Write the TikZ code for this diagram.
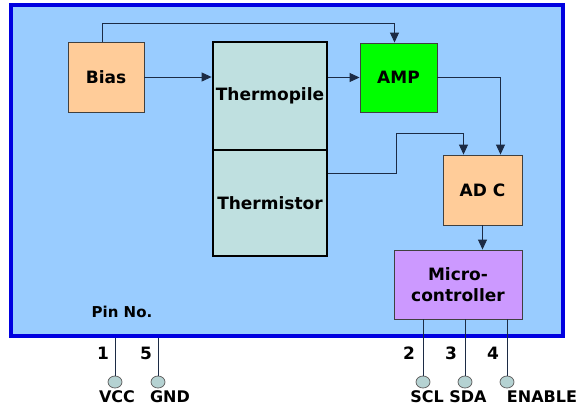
\documentclass[tikz,border=0pt]{standalone}
\usepackage{fontspec}
\setmainfont{DejaVu Sans}
\usetikzlibrary{arrows.meta,shapes.geometric}
\definecolor{chipbg}{HTML}{99CCFF}
\definecolor{chipedge}{HTML}{0000E0}
\definecolor{peach}{HTML}{FFCC99}
\definecolor{ampgreen}{HTML}{00FF00}
\definecolor{sensor}{HTML}{BFE0E0}
\definecolor{mcu}{HTML}{CC99FF}
\definecolor{wire}{HTML}{1C2B45}

\begin{document}
\begin{tikzpicture}[x=1pt, y=-1pt, >={Triangle[length=10pt,width=9pt]},
    font=\bfseries\fontsize{17}{21}\selectfont,
    b/.style={draw=black!75, line width=0.9pt, align=center, inner sep=0pt},
    s/.style={draw=black, line width=2.8pt, fill=sensor, minimum width=114pt, inner sep=0pt},
    pin/.style={ellipse, draw=black!60, line width=0.8pt, fill=sensor!85!gray,
                minimum width=14pt, minimum height=12pt, inner sep=0pt},
    w/.style={draw=wire, line width=1pt}]
    \useasboundingbox (0,0) rectangle (580,418);
    \node[draw=chipedge, line width=4pt, fill=chipbg, minimum width=552pt, minimum height=331pt] (chip) at (287,170.5) {};

    \node[b, fill=peach,    minimum width=76pt,  minimum height=70pt] (bias) at (106,77)    {Bias};
    \node[s, minimum height=108pt] (tp) at (270,96)  {Thermopile};
    \node[s, minimum height=106pt] (tm) at (270,203) {Thermistor};
    \node[b, fill=ampgreen, minimum width=77pt,  minimum height=69pt] (amp)  at (398.5,77.5) {AMP};
    \node[b, fill=peach,    minimum width=79pt,  minimum height=70pt] (adc)  at (482.5,190)  {AD C};
    \node[b, fill=mcu,      minimum width=128pt, minimum height=69pt] (mc)   at (458,284.5)  {Micro-\\controller};

    \draw[w,->] ([xshift=-4pt]bias.north) -- ++(0,-18) -| ([xshift=-4pt]amp.north);
    \draw[w,->] (bias) -- (bias -| tp.west);
    \draw[w,->] (tp.east |- amp) -- (amp.west);
    \draw[w,->] (amp.east) -| ([xshift=18pt]adc.north);
    \draw[w,->] ([yshift=30pt]tm.east) -- ++(68,0) -- ++(0,-40) -| ([xshift=-19pt]adc.north);
    \draw[w,->] (adc.south) -- (adc.south |- mc.north);

    \node[font=\bfseries\fontsize{15}{17}\selectfont] (pinno) at (122,312) {Pin No.};

    % pins below the chip
    \foreach \n/\x in {1/115, 5/158} {
      \node[pin] (p\n) at (\x,382) {};
      \draw[w] (p\n.north) -- (p\n |- chip.south);
      \node (n\n) at (\x-12,353) {\n};
    }
    \foreach \n/\x in {2/423, 3/465, 4/507} {
      \node[pin] (p\n) at (\x,382) {};
      \draw[w] (p\n.north) -- (p\n |- mc.south);
      \node (n\n) at (\x-14,353) {\n};
    }
    \foreach \id/\x/\t in {vcc/117/VCC, gnd/170/GND, scl/427/SCL, sda/468/SDA, enable/542/ENABLE}
      \node[font=\bfseries\fontsize{16}{19}\selectfont] (\id) at (\x,397) {\t};
\end{tikzpicture}
\end{document}
